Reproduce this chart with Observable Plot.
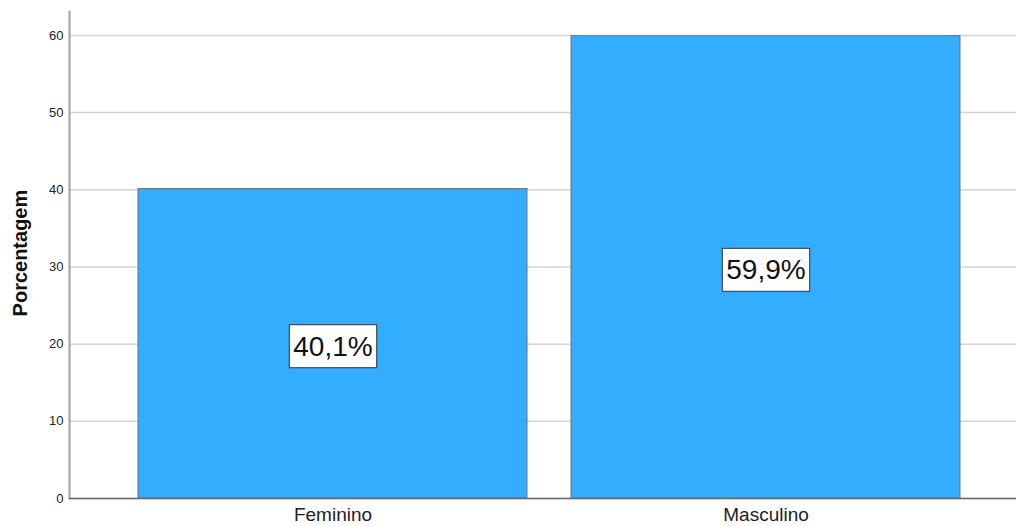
<!DOCTYPE html>
<html>
<head>
<meta charset="utf-8">
<script src="https://cdn.jsdelivr.net/npm/d3@7"></script>
<script src="https://cdn.jsdelivr.net/npm/@observablehq/plot@0.6"></script>
<style>
  body { margin: 0; background: #fff; }
  #chart svg { display: block; font-family: "Liberation Sans", Arial, sans-serif; }
</style>
</head>
<body>
<div id="chart"></div>
<script>
const categories = ["Feminino", "Masculino"];
const values = [40.1, 59.9];
const labels = ["40,1%", "59,9%"];
const yTicks = [0, 10, 20, 30, 40, 50, 60];

const data = categories.map((c, i) => ({cat: c, value: values[i], label: labels[i]}));

const plot = Plot.plot({
  width: 1016,
  height: 526,
  marginLeft: 69,
  marginRight: 0,
  marginTop: 11,
  marginBottom: 28,
  style: {fontFamily: "Liberation Sans, Arial, sans-serif", background: "#fff"},
  x: {domain: categories, paddingInner: 0.1016, paddingOuter: 0.144, align: 0.552, label: null},
  y: {domain: [0, 63.1], label: null},
  marks: [
    Plot.gridY(yTicks, {stroke: "#d4d4d4", strokeOpacity: 1, strokeWidth: 1.5}),
    Plot.barY(data, {x: "cat", y: "value", fill: "#33adff", stroke: "#6a747c", strokeWidth: 1}),
    Plot.frame({anchor: "left", stroke: "#a0a0a0", strokeWidth: 2}),
    Plot.axisY(yTicks, {tickSize: 0, tickPadding: 6, fontSize: 13, fill: "#222", label: null}),
    Plot.ruleY([0], {stroke: "#6a6a6a", strokeWidth: 1.5}),
    Plot.axisX({tickSize: 0, tickPadding: 9, fontSize: 19, fill: "#222", label: null}),
    Plot.text(data, {x: "cat", y: d => d.value / 2, dy: 3, text: "label", fontSize: 28, fill: "#111", className: "barlabel"}),
    Plot.text(["Porcentagem"], {frameAnchor: "left", textAnchor: "middle", dx: -49, y: 31.8, rotate: -90, text: d => d, fontSize: 20, fontWeight: "bold", fill: "#111"})
  ]
});

document.getElementById("chart").appendChild(plot);

// enforce tick label size on the y axis
d3.select(plot).selectAll('g[aria-label="y-axis tick label"]')
  .attr("font-size", 13).style("font-size", "13px");

// add white boxes behind the value labels, sized from the rendered text
d3.select(plot).selectAll("g.barlabel text").each(function() {
  const bb = this.getBBox();
  const padX = 4, boxH = 43;
  const cy = bb.y + bb.height / 2;
  const t = this.getAttribute("transform");
  d3.select(this.parentNode).insert("rect", () => this)
    .attr("transform", t)
    .attr("x", bb.x - padX)
    .attr("y", cy - boxH / 2)
    .attr("width", bb.width + 2 * padX)
    .attr("height", boxH)
    .attr("fill", "#fff")
    .attr("stroke", "#333")
    .attr("stroke-width", 1);
});
</script>
</body>
</html>
